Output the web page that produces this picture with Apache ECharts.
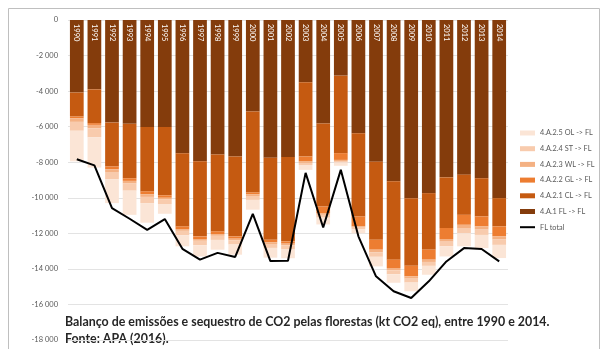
<!DOCTYPE html>
<html><head><meta charset="utf-8">
<script src="https://cdn.jsdelivr.net/npm/echarts@6/dist/echarts.min.js"></script>
<style>html,body{margin:0;padding:0;background:#fff}#c{width:605px;height:349px}</style>
</head><body><div id="c"></div>
<script>
const years = ['1990','1991','1992','1993','1994','1995','1996','1997','1998','1999','2000','2001','2002','2003','2004','2005','2006','2007','2008','2009','2010','2011','2012','2013','2014'];
const flToFl = [-4080,-3900,-5770,-5840,-6020,-6020,-7490,-7940,-7560,-7680,-5150,-7750,-7700,-3500,-5820,-3130,-6370,-7980,-9070,-10020,-9740,-8850,-8700,-8900,-10020];
const clToFl = [-1350,-1900,-2470,-3060,-3620,-3840,-4120,-4230,-4330,-4490,-4550,-4610,-4750,-4180,-4670,-4360,-4680,-4380,-4410,-3800,-3180,-2850,-2260,-2150,-1590];
const glToFl = [-100,-100,-160,-150,-160,-140,-150,-150,-150,-130,-100,-140,-130,-280,-370,-380,-560,-560,-470,-600,-560,-620,-560,-560,-560];
const wlToFl = [-200,-200,-150,-150,-150,-100,-100,-100,-100,-100,-100,-100,-100,-80,-100,-60,-70,-150,-130,-130,-130,-150,-180,-180,-180];
const stToFl = [-500,-500,-400,-400,-350,-250,-250,-250,-230,-230,-220,-220,-200,-120,-160,-90,-100,-250,-220,-220,-220,-250,-300,-300,-300];
const olToFl = [-1720,-1700,-1350,-1360,-1100,-550,-620,-630,-550,-570,-550,-550,-520,-270,-380,-180,-220,-540,-480,-490,-500,-580,-730,-740,-740];
const flTotal = [-7830,-8180,-10580,-11180,-11800,-11200,-12870,-13480,-13100,-13330,-10900,-13560,-13540,-8600,-11670,-8430,-12170,-14420,-15260,-15640,-14700,-13580,-12830,-12880,-13580];
const yTicks = {min:-18000, max:0, interval:2000};
const caption1 = 'Balanço de emissões e sequestro de CO2 pelas florestas (kt CO2 eq), entre 1990 e 2014.';
const caption2 = 'Fonte: APA (2016).';

const names = ['4.A.1 FL -> FL','4.A.2.1 CL -> FL','4.A.2.2 GL -> FL','4.A.2.3 WL -> FL','4.A.2.4 ST -> FL','4.A.2.5 OL -> FL'];
const colors = ['#843C0C','#C55A11','#ED7D31','#F4B183','#F8CBAD','#FBE5D6'];
const datasets = [flToFl, clToFl, glToFl, wlToFl, stToFl, olToFl];
const font = 'Lato, "Open Sans", sans-serif';

const barSeries = datasets.map((d,i)=>({
  name: names[i], type:'bar', stack:'s', data:d, barCategoryGap:'22%',
  itemStyle:{color:colors[i]}, emphasis:{disabled:true}
}));

const chart = echarts.init(document.getElementById('c'), null, {renderer:'canvas'});
chart.setOption({
  animation:false,
  textStyle:{fontFamily:font},
  grid:{left:68, right:97, top:20, bottom:9},
  xAxis:{type:'category', data:years, position:'top', z:10,
    axisLine:{show:false}, axisTick:{show:false},
    axisLabel:{inside:true, rotate:-90, align:'left', verticalAlign:'middle', color:'#fff', fontSize:7.5, margin:4, interval:0, fontFamily:font}},
  yAxis:{type:'value', min:yTicks.min, max:yTicks.max, interval:yTicks.interval,
    axisLine:{show:false}, axisTick:{show:false},
    splitLine:{lineStyle:{color:'#E3E3E3', width:1}},
    axisLabel:{color:'#595959', fontSize:7.5, margin:10, fontFamily:font,
      formatter:v=>String(v).replace(/\B(?=(\d{3})+(?!\d))/g,' ')}},
  legend:{orient:'vertical', left:520, top:129, itemWidth:15, itemHeight:5, itemGap:7.7, itemTextGap:2,
    padding:0, textStyle:{fontSize:7.3, color:'#595959', lineHeight:8, fontFamily:font},
    data:[
      {name:names[5], icon:'rect'},{name:names[4], icon:'rect'},{name:names[3], icon:'rect'},
      {name:names[2], icon:'rect'},{name:names[1], icon:'rect'},{name:names[0], icon:'rect'},
      {name:'FL total', icon:'path://M0,0 L15,0 L15,2 L0,2 Z'}]},
  series: barSeries.concat([{name:'FL total', type:'line', data:flTotal, symbol:'none',
    lineStyle:{color:'#000', width:2}, itemStyle:{color:'#000'}, z:5}]),
  graphic:[
    {type:'rect', shape:{x:8.5, y:8.5, width:591, height:360}, style:{fill:'none', stroke:'#BFBFBF', lineWidth:1}, silent:true},
    {type:'text', left:65, top:316, style:{text:caption1, font:'bold 12.4px '+font, fill:'#262626'}},
    {type:'text', left:65, top:333, style:{text:caption2, font:'bold 12.4px '+font, fill:'#262626'}}
  ]
});
</script></body></html>
